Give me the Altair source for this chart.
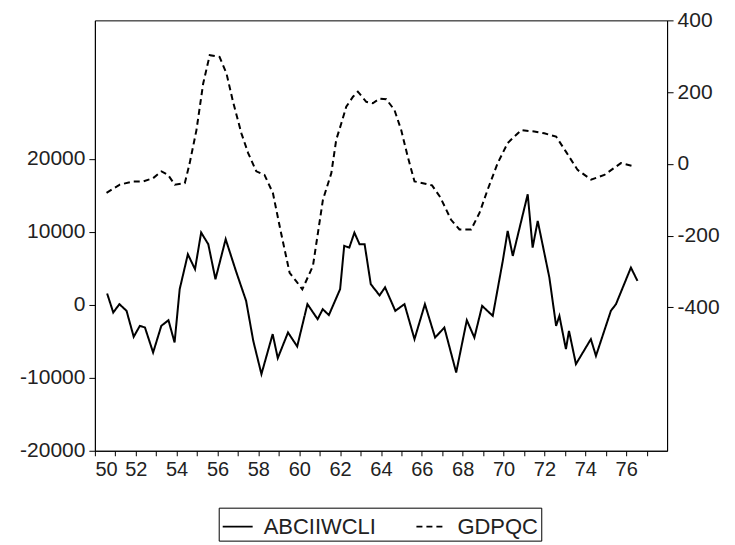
import altair as alt
import pandas as pd

# ABCIIWCLI (left axis, solid)
abc_year = [50.6, 50.9, 51.2, 51.55, 51.9, 52.2, 52.45, 52.85, 53.25, 53.6, 53.9, 54.15,
            54.55, 54.9, 55.2, 55.55, 55.9, 56.4, 56.9, 57.4, 57.75, 58.15, 58.7, 58.95,
            59.45, 59.9, 60.4, 60.9, 61.15, 61.45, 62.0, 62.2, 62.45, 62.7, 62.95, 63.2,
            63.5, 63.93, 64.2, 64.7, 65.15, 65.64, 66.15, 66.65, 67.1, 67.68, 68.2, 68.57,
            68.95, 69.47, 69.96, 70.2, 70.45, 71.18, 71.42, 71.67, 72.24, 72.57, 72.73,
            73.05, 73.2, 73.54, 74.27, 74.52, 75.25, 75.5, 76.23, 76.55]
abc_value = [1550, -1050, 100, -820, -4380, -2880, -3100, -6530, -2880, -2100, -5160, 2150,
             6940, 4890, 9910, 8310, 3520, 9000, 4660, 550, -4930, -9490, -4010, -7300,
             -3790, -5700, 100, -1960, -590, -1400, 2150, 8080, 7850, 9900, 8310, 8310,
             2840, 1300, 2400, -820, 100, -4700, 100, -4480, -3110, -9270, -2100, -4480,
             -140, -1510, 6030, 10140, 6710, 15160, 7850, 11510, 3740, -2880, -1510,
             -6070, -3560, -8120, -4700, -6990, -820, 100, 5110, 3290]

# GDPQC (right axis, dashed)
gdp_year = [50.57, 51.22, 51.87, 52.36, 52.85, 53.26, 53.58, 53.91, 54.4, 54.64, 54.97,
            55.3, 55.62, 56.1, 56.44, 56.76, 57.17, 57.5, 57.9, 58.3, 58.71, 59.1, 59.53,
            59.85, 60.15, 60.67, 61.16, 61.57, 61.81, 62.06, 62.3, 62.63, 62.87, 63.28,
            63.6, 63.93, 64.26, 64.66, 64.99, 65.31, 65.64, 66.05, 66.5, 66.9, 67.43,
            67.84, 68.41, 68.82, 69.22, 69.71, 70.2, 70.86, 71.5, 71.99, 72.57, 73.05,
            73.62, 74.28, 74.93, 75.74, 76.39]
gdp_value = [-81, -58, -49, -49, -40, -21, -31, -58, -54, 2, 94, 224, 303, 298, 252, 173,
             85, 30, -21, -31, -81, -190, -304, -327, -350, -285, -100, -26, 67, 113, 159,
             187, 201, 173, 169, 182, 180, 150, 94, 20, -49, -54, -60, -93, -156, -183,
             -183, -137, -72, 2, 58, 94, 90, 85, 76, 34, -17, -44, -31, 2, -7]

series_names = ["ABCIIWCLI", "GDPQC"]
x_ticks = list(range(50, 78))
left_ticks = [-20000, -10000, 0, 10000, 20000]
right_ticks = [-400, -200, 0, 200, 400]

df1 = pd.DataFrame({"year": abc_year, "value": abc_value, "series": series_names[0]})
df2 = pd.DataFrame({"year": gdp_year, "value": gdp_value, "series": series_names[1]})

FONT = "Liberation Sans"
TXT = "#222222"
PLAIN = "'' + datum.value"

x_enc = alt.X("year:Q", scale=alt.Scale(domain=[50, 78], nice=False, zero=False),
              axis=alt.Axis(values=x_ticks, title=None,
                            labelExpr="datum.value % 2 == 0 ? '' + datum.value : ''",
                            grid=False, tickSize=5, labelPadding=4, domainColor="black",
                            tickColor="black", labelFont=FONT, labelFontSize=20,
                            labelColor=TXT))

dash = alt.StrokeDash("series:N",
                      scale=alt.Scale(domain=series_names, range=[[1, 0], [6, 4]]),
                      legend=alt.Legend(title=None, orient="none", legendX=124, legendY=488,
                                        direction="horizontal", symbolType="stroke",
                                        symbolSize=900, symbolStrokeWidth=1.6,
                                        symbolStrokeColor="black", labelFont=FONT,
                                        labelFontSize=22, labelColor=TXT,
                                        strokeColor="black", padding=3,
                                        columnPadding=36, labelOffset=10))

line1 = alt.Chart(df1).mark_line(color="black", strokeWidth=2).encode(
    x=x_enc,
    y=alt.Y("value:Q", scale=alt.Scale(domain=[-20000, 39000], nice=False, zero=False),
            axis=alt.Axis(values=left_ticks, title=None, orient="left", grid=False,
                          tickSize=6, labelPadding=4, domainColor="black",
                          tickColor="black", labelFont=FONT, labelFontSize=21,
                          labelColor=TXT, labelExpr=PLAIN)),
    strokeDash=dash,
)

line2 = alt.Chart(df2).mark_line(color="black", strokeWidth=2).encode(
    x=x_enc,
    y=alt.Y("value:Q", scale=alt.Scale(domain=[-800, 400], nice=False, zero=False),
            axis=alt.Axis(values=right_ticks, title=None, orient="right", grid=False,
                          tickSize=6, labelPadding=4, domainColor="black",
                          tickColor="black", labelFont=FONT, labelFontSize=21,
                          labelColor=TXT, labelExpr=PLAIN)),
    strokeDash=dash,
)

chart = alt.layer(line1, line2).resolve_scale(y="independent").properties(
    width=573, height=431,
    autosize=alt.AutoSizeParams(type="none"),
    padding={"left": 87, "top": 12, "right": 60, "bottom": 100},
).configure_view(stroke="black", strokeWidth=1)

chart.save("out.html", embed_options={"renderer": "svg", "actions": False})
